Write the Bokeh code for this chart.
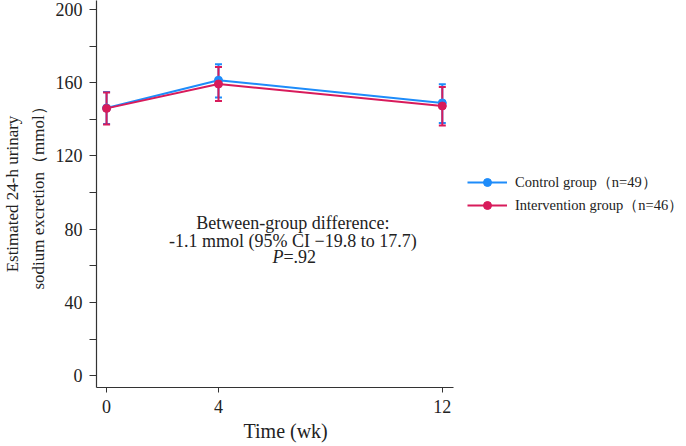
from bokeh.plotting import figure
from bokeh.models import (Range1d, FixedTicker, Whisker, ColumnDataSource, Legend,
                          LegendItem, Label, TeeHead, Title)
from bokeh.embed import file_html
from bokeh.resources import INLINE

# Estimated 24-h urinary sodium excretion (mmol), mean with 95% CI
weeks = [0, 4, 12]
control_mean = [146.2, 161.4, 149.0]
control_lower = [137.5, 151.9, 138.0]
control_upper = [155.0, 170.1, 159.2]
interv_mean = [146.0, 159.3, 147.3]
interv_lower = [137.2, 150.0, 136.6]
interv_upper = [154.7, 168.6, 157.7]

x_ticks = [0, 4, 12]
y_ticks = [0, 40, 80, 120, 160, 200]
y_minor = [20, 60, 100, 140, 180]

control_label = "Control group\uff08n=49\uff09"
interv_label = "Intervention group\uff08n=46\uff09"
y_title_lines = ["Estimated 24-h urinary", "sodium excretion\uff08mmol\uff09"]
x_title = "Time (wk)"

BLUE = "#1E8CFA"
RED = "#D81B5B"
INK = "#222222"
FONT = "Liberation Serif"

p = figure(frame_width=357, frame_height=387,
           output_backend="svg", toolbar_location=None,
           x_range=Range1d(-0.36, 12.4), y_range=Range1d(-6.4, 204.9),
           min_border_left=96, min_border_right=233, min_border_top=0,
           min_border_bottom=59)
p.outline_line_color = None
p.grid.visible = False
p.background_fill_color = "white"

# axes
p.xaxis.ticker = FixedTicker(ticks=x_ticks)
p.yaxis.ticker = FixedTicker(ticks=y_ticks, minor_ticks=y_minor)
for ax in (p.xaxis[0], p.yaxis[0]):
    ax.axis_line_color = "#333333"
    ax.axis_line_width = 1.2
    ax.major_tick_line_color = "#333333"
    ax.minor_tick_line_color = "#333333"
    ax.major_tick_in = 0
    ax.minor_tick_in = 0
    ax.major_label_text_font = FONT
    ax.major_label_text_font_size = "18px"
    ax.major_label_text_color = INK
p.xaxis.major_tick_out = 5
p.xaxis.minor_tick_out = 0
p.xaxis.major_label_standoff = 7
p.yaxis.major_tick_out = 7
p.yaxis.minor_tick_out = 7
p.yaxis.major_label_standoff = 7

# y-axis title as two stacked lines (inner line first)
for text, standoff in [(y_title_lines[1], 10), (y_title_lines[0], 0)]:
    p.add_layout(Title(text=text, align="center", standoff=standoff,
                       text_font=FONT, text_font_size="17px",
                       text_font_style="normal", text_color=INK), "left")

# x-axis title, set slightly right of the frame centre
p.add_layout(Title(text=x_title, align="left", offset=147, standoff=5,
                   text_font=FONT, text_font_size="20px",
                   text_font_style="normal", text_color=INK), "below")

items = []
for mean, lo, hi, color, label in [
    (control_mean, control_lower, control_upper, BLUE, control_label),
    (interv_mean, interv_lower, interv_upper, RED, interv_label),
]:
    src = ColumnDataSource(dict(x=weeks, y=mean, lo=lo, hi=hi))
    w = Whisker(source=src, base="x", lower="lo", upper="hi",
                line_color=color, line_width=2,
                lower_head=TeeHead(size=7, line_color=color, line_width=2),
                upper_head=TeeHead(size=7, line_color=color, line_width=2))
    p.add_layout(w)
    ln = p.line("x", "y", source=src, line_color=color, line_width=2)
    sc = p.scatter("x", "y", source=src, size=8, fill_color=color, line_color=color)
    items.append(LegendItem(label=label, renderers=[ln, sc]))

legend = Legend(items=items, location=(14, 172), orientation="vertical",
                glyph_width=40, glyph_height=20, label_standoff=8, spacing=3,
                padding=0, margin=0, border_line_color=None,
                background_fill_alpha=0,
                label_text_font=FONT, label_text_font_size="14.5px",
                label_text_color=INK)
p.add_layout(legend, "right")

# between-group annotation
ann_x = 6.66
for text, y in [("Between-group difference:", 83.6),
                ("-1.1 mmol (95% CI \u221219.8 to 17.7)", 73.6)]:
    p.add_layout(Label(x=ann_x, y=y, text=text, text_align="center",
                       text_baseline="middle", text_font=FONT,
                       text_font_size="18px", text_color=INK))
p.add_layout(Label(x=6.32, y=65.0, text="P", text_align="right",
                   text_baseline="middle", text_font=FONT, text_font_style="italic",
                   text_font_size="18px", text_color=INK))
p.add_layout(Label(x=6.32, y=65.0, text="=.92", text_align="left",
                   text_baseline="middle", text_font=FONT,
                   text_font_size="18px", text_color=INK))

open("out.html", "w").write(file_html(p, INLINE))
